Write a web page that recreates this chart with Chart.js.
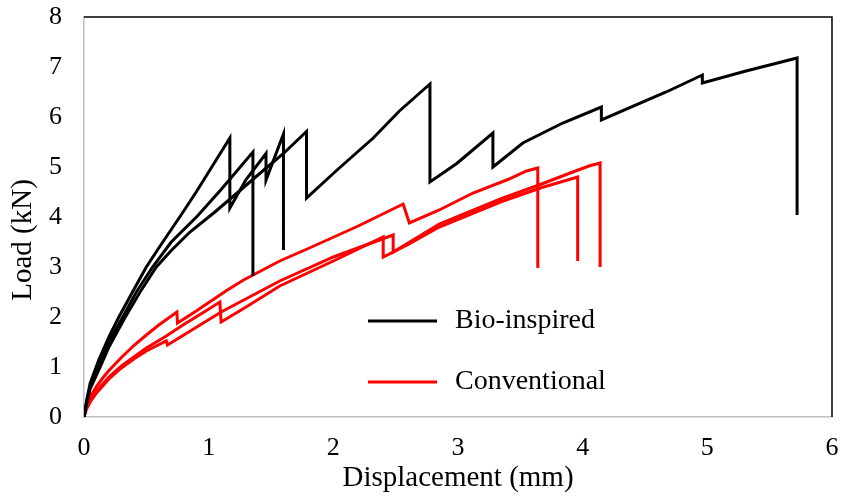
<!DOCTYPE html>
<html lang="en">
<head>
<meta charset="UTF-8">
<title>Load vs Displacement</title>
<style>
  body { margin: 0; background: #fff; }
  #c { display: block; }
</style>
<script src="https://cdn.jsdelivr.net/npm/chart.js"></script>
</head>
<body>
<canvas id="c" width="842" height="499"></canvas>
<script>
// bio-inspired specimens (displacement mm, load kN)
const bio1X = [0, 0.02, 0.05, 0.12, 0.2, 0.28, 0.4, 0.5, 0.6, 0.7, 0.8, 0.9, 1.0, 1.1, 1.17, 1.17, 1.3, 1.46, 1.46, 1.6, 1.6];
const bio1Y = [0, 0.32, 0.68, 1.15, 1.6, 2.0, 2.55, 3.0, 3.38, 3.75, 4.12, 4.5, 4.9, 5.3, 5.58, 4.18, 4.75, 5.27, 4.74, 5.66, 3.34];

const bio2X = [0, 0.02, 0.05, 0.12, 0.2, 0.3, 0.42, 0.55, 0.7, 0.91, 1.1, 1.355, 1.355];
const bio2Y = [0, 0.28, 0.62, 1.07, 1.5, 1.95, 2.5, 3.0, 3.5, 4.02, 4.55, 5.3, 2.82];

const bio3X = [0, 0.02, 0.05, 0.13, 0.2, 0.32, 0.45, 0.58, 0.7, 0.85, 1.05, 1.2, 1.4, 1.6, 1.785, 1.785,
               2.03, 2.32, 2.53, 2.775, 2.775, 2.99, 3.28, 3.28, 3.52, 3.84, 4.15, 4.15,
               4.67, 4.96, 4.96, 5.31, 5.72, 5.72];
const bio3Y = [0, 0.26, 0.57, 1.0, 1.4, 1.95, 2.5, 3.0, 3.33, 3.7, 4.1, 4.42, 4.85, 5.27, 5.71, 4.38,
               4.94, 5.58, 6.12, 6.66, 4.7, 5.07, 5.68, 5.0, 5.48, 5.88, 6.2, 5.94,
               6.5, 6.84, 6.68, 6.92, 7.18, 4.04];

// conventional specimens
const conv1X = [0, 0.02, 0.05, 0.1, 0.15, 0.2, 0.3, 0.4, 0.5, 0.6, 0.745, 0.75, 0.9, 1.15, 1.28, 1.57, 1.79, 2.2, 2.56, 2.61,
                2.85, 3.12, 3.4, 3.55, 3.64, 3.64];
const conv1Y = [0, 0.23, 0.4, 0.61, 0.78, 0.93, 1.19, 1.43, 1.64, 1.84, 2.1, 1.88, 2.12, 2.54, 2.74, 3.12, 3.36, 3.82, 4.26, 3.88,
                4.14, 4.48, 4.75, 4.92, 4.98, 2.98];

const conv2X = [0, 0.02, 0.05, 0.1, 0.2, 0.3, 0.4, 0.5, 0.66, 0.8, 0.95, 1.09, 1.1, 1.3, 1.57, 2.0, 2.4, 2.4,
                2.6, 2.85, 3.34, 3.66, 3.96, 3.96];
const conv2Y = [0, 0.18, 0.33, 0.52, 0.8, 1.02, 1.2, 1.38, 1.62, 1.85, 2.08, 2.3, 1.9, 2.2, 2.62, 3.12, 3.6, 3.2,
                3.45, 3.8, 4.3, 4.58, 4.8, 3.12];

const conv3X = [0, 0.02, 0.05, 0.1, 0.2, 0.3, 0.4, 0.5, 0.66, 0.67, 0.8, 0.95, 1.1, 1.57, 2.0, 2.48, 2.48,
                2.85, 3.34, 3.66, 3.9, 4.05, 4.14, 4.14];
const conv3Y = [0, 0.16, 0.3, 0.48, 0.76, 0.98, 1.16, 1.32, 1.52, 1.44, 1.64, 1.87, 2.1, 2.72, 3.2, 3.64, 3.3,
                3.86, 4.36, 4.65, 4.88, 5.02, 5.08, 3.0];

const seriesNames = ['Bio-inspired', 'Conventional'];
const seriesColors = ['#000000', '#ff0000'];
const xTitle = 'Displacement (mm)';
const yTitle = 'Load (kN)';

function pts(xs, ys) {
  return xs.map((x, i) => ({ x: x, y: ys[i] }));
}

function line(xs, ys, k) {
  return {
    label: seriesNames[k],
    data: pts(xs, ys),
    showLine: true,
    borderColor: seriesColors[k],
    backgroundColor: seriesColors[k],
    borderWidth: 3,
    pointRadius: 0,
    tension: 0
  };
}

const serif = 'Liberation Serif, Times New Roman, serif';

// axis titles, top/right frame and the in-plot legend
const extras = {
  id: 'extras',
  afterDraw(chart) {
    const ctx = chart.ctx;
    const a = chart.chartArea;
    ctx.save();
    ctx.strokeStyle = '#000';
    ctx.lineWidth = 1.5;
    ctx.beginPath();
    ctx.moveTo(a.left, a.top);
    ctx.lineTo(a.right, a.top);
    ctx.lineTo(a.right, a.bottom);
    ctx.stroke();

    ctx.fillStyle = '#000';
    ctx.font = '29px ' + serif;
    ctx.textAlign = 'center';
    ctx.textBaseline = 'middle';
    ctx.fillText(xTitle, (a.left + a.right) / 2, 478);
    ctx.save();
    ctx.translate(23, 240);
    ctx.rotate(-Math.PI / 2);
    ctx.fillText(yTitle, 0, 0);
    ctx.restore();

    // legend
    ctx.font = '28px ' + serif;
    const rows = [321, 382];
    ctx.textAlign = 'left';
    ctx.lineWidth = 3;
    rows.forEach((y, i) => {
      ctx.strokeStyle = seriesColors[i];
      ctx.beginPath();
      ctx.moveTo(368, y);
      ctx.lineTo(437, y);
      ctx.stroke();
      ctx.fillText(seriesNames[i], 455, y);
    });
    ctx.restore();
  }
};

new Chart(document.getElementById('c'), {
  type: 'scatter',
  data: {
    datasets: [
      line(bio1X, bio1Y, 0),
      line(bio2X, bio2Y, 0),
      line(bio3X, bio3Y, 0),
      line(conv1X, conv1Y, 1),
      line(conv2X, conv2Y, 1),
      line(conv3X, conv3Y, 1)
    ]
  },
  options: {
    responsive: false,
    animation: false,
    layout: { padding: { top: 17, right: 10, left: 0, bottom: 0 } },
    plugins: { legend: { display: false }, tooltip: { enabled: false } },
    scales: {
      x: {
        type: 'linear',
        min: 0, max: 6,
        ticks: { stepSize: 1, padding: 16, color: '#000', font: { family: serif, size: 26 } },
        grid: { display: false, drawTicks: false },
        border: { color: '#bfbfbf', width: 1.5 },
        afterFit: s => { s.height = 82; s.paddingLeft = 0; s.paddingRight = 0; }
      },
      y: {
        min: 0, max: 8,
        ticks: { stepSize: 1, padding: 22, color: '#000', font: { family: serif, size: 26 } },
        grid: { display: false, drawTicks: false },
        border: { color: '#bfbfbf', width: 1.5 },
        afterFit: s => { s.width = 84; s.paddingTop = 0; s.paddingBottom = 0; }
      }
    }
  },
  plugins: [extras]
});
</script>
</body>
</html>
